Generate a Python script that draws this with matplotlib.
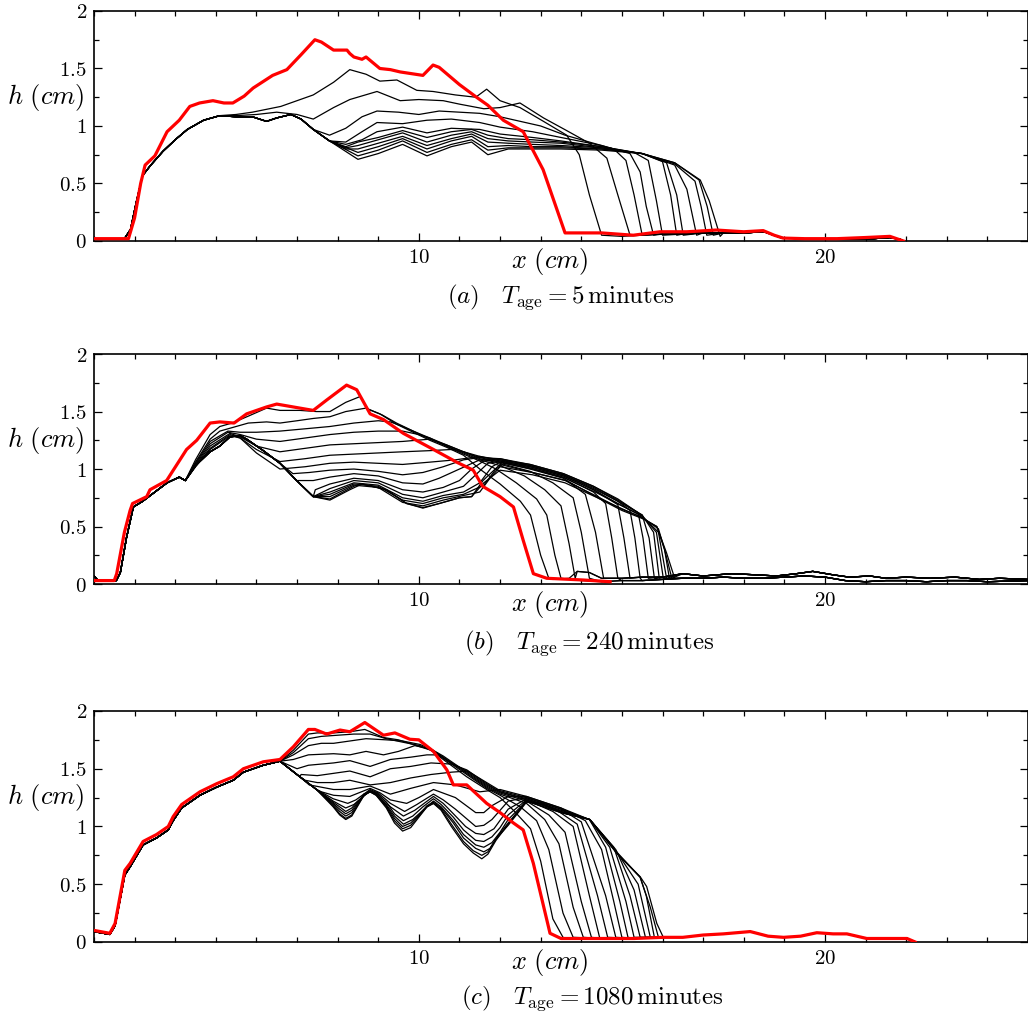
import matplotlib
matplotlib.use('Agg')
import matplotlib.pyplot as plt
import numpy as np
from matplotlib.ticker import MultipleLocator

plt.rcParams['mathtext.fontset'] = 'cm'
plt.rcParams['font.family'] = 'serif'
plt.rcParams['font.serif'] = ['DejaVu Serif']

# tick labels / captions
x_ticks = [10, 20]
x_tick_labels = ['$10$', '$20$']
y_ticks = [0, 0.5, 1, 1.5, 2]
y_tick_labels = ['$0$', '$0.5$', '$1$', '$1.5$', '$2$']
panel_letters = ['a', 'b', 'c']
ages = ['5', '240', '1080']

# ---------------- panel (a) : T_age = 5 min ----------------
a_base = [(2.0, 0.02), (2.75, 0.02), (2.9, 0.1), (3.05, 0.35), (3.2, 0.57), (3.4, 0.66),
          (3.7, 0.78), (4.0, 0.88), (4.3, 0.97), (4.7, 1.05), (5.1, 1.09),
          (5.5, 1.08), (5.9, 1.08), (6.25, 1.04), (6.5, 1.07), (6.85, 1.10), (7.1, 1.06),
          (7.4, 0.97), (7.8, 0.87)]
a_floor = [(14.5, 0.05), (15.0, 0.04), (15.5, 0.05), (16.0, 0.06), (16.5, 0.06), (17.0, 0.07),
           (17.5, 0.07), (18.0, 0.07), (18.5, 0.08), (18.9, 0.03), (19.5, 0.02), (20.5, 0.02),
           (21.2, 0.02), (21.6, 0.03), (21.9, 0.01)]
a_curves = [
    [(5.5, 1.10), (5.9, 1.12), (6.6, 1.17), (7.0, 1.22), (7.4, 1.27), (7.9, 1.38), (8.3, 1.49),
     (8.7, 1.45), (9.04, 1.39), (9.46, 1.40), (9.95, 1.31), (10.35, 1.30), (10.9, 1.27),
     (11.4, 1.25), (11.67, 1.32), (12.0, 1.22), (12.49, 1.16), (13.07, 1.04), (13.64, 0.92),
     (13.95, 0.75), (14.2, 0.4), (14.5, 0.05)],
    [(5.5, 1.09), (6.0, 1.10), (6.5, 1.12), (7.0, 1.10), (7.4, 1.06), (7.9, 1.16), (8.3, 1.23),
     (8.97, 1.30), (9.54, 1.22), (10.0, 1.23), (10.6, 1.22), (11.0, 1.19), (11.6, 1.15),
     (12.0, 1.16), (12.49, 1.20), (13.07, 1.07), (13.64, 0.96), (14.2, 0.85), (14.63, 0.72),
     (14.9, 0.4), (15.2, 0.05)],
    [(7.8, 0.92), (8.2, 0.98), (8.6, 1.08), (8.97, 1.13), (9.5, 1.12), (10.0, 1.10), (10.5, 1.13),
     (11.0, 1.12), (11.5, 1.11), (12.0, 1.08), (12.5, 1.04), (13.0, 1.0), (13.6, 0.92),
     (14.2, 0.86), (14.8, 0.80), (15.1, 0.70), (15.3, 0.4), (15.5, 0.05)],
    [(8.2, 0.86), (8.6, 0.95), (8.97, 1.03), (9.6, 1.02), (10.2, 1.05), (10.8, 1.06), (11.5, 1.03),
     (12.0, 0.99), (12.8, 0.95), (13.5, 0.90), (14.5, 0.83), (15.2, 0.76), (15.45, 0.6),
     (15.6, 0.3), (15.78, 0.05)],
    [(8.2, 0.84), (8.6, 0.88), (8.97, 0.95), (9.6, 0.99), (10.2, 0.94), (10.8, 0.98), (11.5, 0.97),
     (12.0, 0.93), (12.8, 0.90), (13.5, 0.87), (14.5, 0.82), (15.3, 0.77), (15.65, 0.70),
     (15.85, 0.35), (16.0, 0.05)],
    [(8.2, 0.82), (8.5, 0.86), (9.0, 0.90), (9.6, 0.96), (10.2, 0.90), (10.8, 0.95), (11.3, 0.97),
     (11.7, 0.92), (12.2, 0.89), (12.8, 0.88), (13.5, 0.86), (14.5, 0.82), (15.5, 0.76),
     (16.0, 0.69), (16.2, 0.4), (16.35, 0.05)],
    [(8.2, 0.81), (8.5, 0.83), (9.0, 0.88), (9.6, 0.94), (10.2, 0.86), (10.8, 0.92), (11.3, 0.95),
     (11.7, 0.89), (12.2, 0.87), (12.8, 0.86), (13.5, 0.85), (14.5, 0.81), (15.5, 0.76),
     (16.1, 0.68), (16.35, 0.4), (16.51, 0.05)],
    [(8.2, 0.80), (8.5, 0.80), (9.0, 0.85), (9.6, 0.91), (10.2, 0.83), (10.8, 0.89), (11.3, 0.93),
     (11.7, 0.86), (12.2, 0.85), (12.8, 0.84), (13.5, 0.83), (14.5, 0.81), (15.5, 0.76),
     (16.3, 0.66), (16.6, 0.45), (16.84, 0.05)],
    [(8.5, 0.77), (9.0, 0.82), (9.6, 0.89), (10.2, 0.80), (10.8, 0.87), (11.3, 0.91), (11.7, 0.82),
     (12.2, 0.83), (12.8, 0.82), (13.5, 0.82), (14.5, 0.80), (15.5, 0.76), (16.3, 0.67),
     (16.8, 0.52), (16.95, 0.3), (17.09, 0.05)],
    [(8.5, 0.74), (9.0, 0.79), (9.6, 0.87), (10.2, 0.77), (10.8, 0.84), (11.3, 0.88), (11.7, 0.79),
     (12.2, 0.81), (12.8, 0.81), (13.5, 0.81), (14.5, 0.80), (15.5, 0.76), (16.3, 0.68),
     (16.9, 0.53), (17.1, 0.3), (17.25, 0.05)],
    [(8.5, 0.71), (9.0, 0.76), (9.6, 0.84), (10.2, 0.74), (10.8, 0.82), (11.3, 0.86), (11.7, 0.75),
     (12.2, 0.80), (12.8, 0.80), (13.5, 0.80), (14.5, 0.79), (15.5, 0.76), (16.3, 0.68),
     (16.93, 0.53), (17.15, 0.35), (17.42, 0.04)],
]
a_red = [(2.0, 0.02), (2.85, 0.02), (3.0, 0.2), (3.15, 0.5), (3.26, 0.66), (3.5, 0.74), (3.8, 0.95),
         (4.1, 1.05), (4.36, 1.17), (4.6, 1.20), (4.93, 1.22), (5.2, 1.20), (5.42, 1.20),
         (5.7, 1.26), (5.92, 1.33), (6.4, 1.44), (6.75, 1.49), (7.1, 1.62), (7.44, 1.75),
         (7.6, 1.73), (7.9, 1.66), (8.23, 1.66), (8.3, 1.63), (8.4, 1.60), (8.6, 1.58), (8.7, 1.60),
         (9.04, 1.50), (9.3, 1.49), (9.54, 1.47), (10.1, 1.44), (10.35, 1.53), (10.5, 1.51),
         (11.0, 1.36), (11.42, 1.25), (11.7, 1.18), (12.08, 1.05), (12.57, 0.95), (13.06, 0.62),
         (13.6, 0.07), (14.5, 0.07), (15.28, 0.05), (15.94, 0.08), (16.6, 0.08), (17.33, 0.095),
         (18.0, 0.08), (18.48, 0.09), (18.75, 0.05), (18.97, 0.025), (19.5, 0.02), (20.3, 0.02),
         (21.0, 0.03), (21.6, 0.04), (21.93, 0.0)]

# ---------------- panel (b) : T_age = 240 min ----------------
b_base = [(2.0, 0.07), (2.1, 0.03), (2.55, 0.03), (2.65, 0.1), (2.8, 0.4), (2.97, 0.67),
          (3.2, 0.72), (3.5, 0.80), (3.8, 0.88), (4.1, 0.93), (4.25, 0.90),
          (4.5, 1.03), (4.86, 1.15), (5.1, 1.20), (5.35, 1.28), (5.6, 1.29), (5.76, 1.26),
          (6.17, 1.16), (6.58, 1.05), (6.99, 0.90), (7.4, 0.76)]
b_floor_hi = [(13.3, 0.04), (13.7, 0.05), (13.9, 0.11), (14.2, 0.10), (14.5, 0.05), (15.0, 0.05),
              (15.5, 0.06), (16.0, 0.06), (16.5, 0.09), (17.0, 0.07), (17.7, 0.09), (18.3, 0.08),
              (18.8, 0.07), (19.3, 0.09), (19.7, 0.11), (20.2, 0.08), (20.6, 0.06), (21.1, 0.07),
              (21.5, 0.05), (22.0, 0.06), (22.6, 0.05), (23.2, 0.06), (23.8, 0.04), (24.3, 0.05),
              (25.0, 0.04)]
b_floor_lo = [(13.3, 0.03), (14.0, 0.03), (14.5, 0.02), (15.0, 0.03), (15.5, 0.03), (16.0, 0.04),
              (16.5, 0.05), (17.0, 0.05), (17.5, 0.06), (18.0, 0.05), (18.5, 0.05), (19.0, 0.06),
              (19.5, 0.07), (20.0, 0.06), (20.5, 0.03), (21.0, 0.02), (21.5, 0.03), (22.0, 0.03),
              (22.5, 0.02), (23.0, 0.03), (23.5, 0.03), (24.0, 0.02), (25.0, 0.03)]
b_curves = [
    [(4.5, 1.08), (4.86, 1.30), (5.1, 1.37), (5.4, 1.40), (5.8, 1.46), (6.25, 1.53), (6.58, 1.51),
     (7.07, 1.51), (7.48, 1.50), (7.81, 1.50), (8.2, 1.58), (8.55, 1.63), (8.75, 1.52),
     (9.04, 1.48), (9.45, 1.39), (9.86, 1.32), (10.27, 1.25), (10.68, 1.19), (11.1, 1.12),
     (11.5, 1.0), (12.0, 0.87), (12.5, 0.72), (12.75, 0.6), (13.0, 0.25), (13.2, 0.05)],
    [(4.5, 1.06), (4.86, 1.26), (5.1, 1.33), (5.4, 1.36), (5.8, 1.40), (6.25, 1.41), (6.58, 1.40),
     (7.0, 1.42), (7.4, 1.44), (7.81, 1.455), (8.2, 1.50), (8.7, 1.53), (9.1, 1.47), (9.45, 1.40),
     (9.86, 1.33), (10.27, 1.26), (10.68, 1.20), (11.1, 1.13), (11.5, 1.07), (11.9, 1.0),
     (12.4, 0.88), (12.9, 0.74), (13.15, 0.6), (13.35, 0.25), (13.5, 0.05)],
    [(4.5, 1.05), (4.86, 1.24), (5.3, 1.33), (5.6, 1.32), (6.0, 1.32), (6.58, 1.33), (7.2, 1.35),
     (7.81, 1.37), (8.4, 1.40), (9.0, 1.42), (9.3, 1.41), (9.6, 1.37), (9.86, 1.33), (10.27, 1.27),
     (10.68, 1.20), (11.1, 1.14), (11.5, 1.08), (12.0, 1.03), (12.6, 0.94), (13.1, 0.82),
     (13.5, 0.68), (13.7, 0.35), (13.85, 0.05)],
    [(4.5, 1.04), (4.86, 1.22), (5.3, 1.32), (5.6, 1.30), (6.0, 1.26), (6.58, 1.24), (7.2, 1.27),
     (7.81, 1.30), (8.4, 1.32), (9.0, 1.33), (9.6, 1.33), (10.0, 1.30), (10.27, 1.27),
     (10.68, 1.21), (11.1, 1.15), (11.5, 1.09), (12.0, 1.05), (12.74, 0.98), (13.3, 0.88),
     (13.8, 0.75), (14.0, 0.45), (14.2, 0.05)],
    [(4.5, 1.03), (4.86, 1.20), (5.35, 1.31), (5.6, 1.28), (6.0, 1.20), (6.58, 1.15), (7.2, 1.18),
     (7.81, 1.21), (8.4, 1.22), (9.0, 1.23), (9.6, 1.24), (10.27, 1.26), (10.68, 1.21),
     (11.1, 1.15), (11.5, 1.10), (12.0, 1.06), (12.74, 1.0), (13.56, 0.92), (14.1, 0.78),
     (14.35, 0.45), (14.55, 0.05)],
    [(4.5, 1.02), (4.86, 1.18), (5.35, 1.30), (5.6, 1.27), (6.0, 1.17), (6.58, 1.065), (7.2, 1.09),
     (7.81, 1.12), (8.4, 1.13), (9.0, 1.14), (9.6, 1.15), (10.27, 1.16), (10.8, 1.17),
     (11.1, 1.15), (11.5, 1.11), (12.0, 1.07), (12.74, 1.01), (13.56, 0.93), (14.3, 0.80),
     (14.6, 0.70), (14.75, 0.4), (14.9, 0.05)],
    [(4.5, 1.02), (4.86, 1.17), (5.35, 1.29), (5.6, 1.27), (6.0, 1.14), (6.58, 1.0), (7.2, 1.02),
     (7.81, 1.05), (8.4, 1.06), (9.0, 1.05), (9.6, 1.04), (10.27, 1.06), (10.9, 1.08),
     (11.5, 1.11), (12.0, 1.08), (12.74, 1.02), (13.56, 0.94), (14.3, 0.82), (14.9, 0.69),
     (15.05, 0.4), (15.2, 0.05)],
    [(6.9, 0.96), (7.3, 0.97), (7.81, 0.99), (8.4, 1.0), (9.0, 0.98), (9.6, 0.95), (10.1, 0.97),
     (10.6, 1.02), (11.1, 1.08), (11.5, 1.10), (12.0, 1.09), (12.74, 1.03), (13.56, 0.95),
     (14.3, 0.83), (14.9, 0.72), (15.2, 0.64), (15.32, 0.4), (15.45, 0.05)],
    [(7.1, 0.90), (7.4, 0.90), (7.81, 0.93), (8.4, 0.96), (9.0, 0.94), (9.6, 0.88), (10.1, 0.87),
     (10.5, 0.92), (11.0, 1.0), (11.5, 1.08), (12.0, 1.09), (12.74, 1.04), (13.56, 0.96),
     (14.3, 0.85), (14.9, 0.74), (15.4, 0.62), (15.52, 0.4), (15.65, 0.05)],
    [(7.45, 0.82), (7.81, 0.87), (8.4, 0.92), (9.0, 0.90), (9.6, 0.82), (10.1, 0.80), (10.6, 0.84),
     (11.0, 0.90), (11.3, 1.0), (11.6, 1.07), (12.0, 1.08), (12.74, 1.04), (13.56, 0.96),
     (14.3, 0.85), (14.9, 0.73), (15.5, 0.60), (15.67, 0.4), (15.8, 0.05)],
    [(7.81, 0.83), (8.4, 0.90), (9.0, 0.88), (9.6, 0.78), (10.1, 0.75), (10.6, 0.80), (11.1, 0.85),
     (11.4, 0.95), (11.7, 1.05), (12.0, 1.07), (12.74, 1.03), (13.56, 0.95), (14.3, 0.84),
     (14.9, 0.72), (15.5, 0.60), (15.78, 0.45), (15.92, 0.05)],
    [(7.81, 0.80), (8.4, 0.88), (9.0, 0.86), (9.6, 0.75), (10.1, 0.72), (10.6, 0.77), (11.1, 0.80),
     (11.5, 0.88), (11.8, 1.02), (12.0, 1.06), (12.74, 1.02), (13.56, 0.94), (14.3, 0.82),
     (14.9, 0.70), (15.5, 0.59), (15.85, 0.45), (16.02, 0.05)],
    [(7.81, 0.78), (8.4, 0.87), (9.0, 0.85), (9.6, 0.73), (10.1, 0.70), (10.6, 0.75), (11.1, 0.78),
     (11.6, 0.86), (11.9, 1.0), (12.1, 1.05), (12.8, 1.0), (13.6, 0.92), (14.4, 0.79),
     (15.0, 0.68), (15.5, 0.59), (15.9, 0.45), (16.1, 0.05)],
    [(7.81, 0.76), (8.4, 0.86), (9.0, 0.84), (9.6, 0.71), (10.1, 0.68), (10.6, 0.73), (11.1, 0.77),
     (11.5, 0.80), (11.75, 0.92), (12.0, 1.02), (12.8, 0.97), (13.6, 0.90), (14.4, 0.76),
     (15.0, 0.65), (15.5, 0.58), (15.9, 0.48), (16.05, 0.3), (16.17, 0.05)],
    [(7.81, 0.74), (8.4, 0.85), (8.6, 0.87), (9.2, 0.82), (9.7, 0.70), (10.1, 0.665), (10.5, 0.70),
     (11.0, 0.75), (11.3, 0.76), (11.6, 0.88), (12.0, 0.99), (12.8, 0.95), (13.6, 0.88),
     (14.4, 0.75), (15.0, 0.64), (15.5, 0.57), (15.86, 0.5), (16.05, 0.3), (16.23, 0.05)],
    [(7.81, 0.73), (8.3, 0.82), (8.6, 0.87), (9.2, 0.82), (9.7, 0.70), (10.1, 0.66), (10.5, 0.70),
     (11.0, 0.75), (11.3, 0.76), (11.58, 0.90), (12.0, 1.04), (12.8, 0.97), (13.64, 0.90),
     (14.46, 0.74), (15.45, 0.585), (15.86, 0.5), (16.1, 0.27), (16.3, 0.05)],
]
b_red = [(2.0, 0.03), (2.5, 0.03), (2.56, 0.09), (2.75, 0.45), (2.89, 0.64), (2.95, 0.70),
         (3.3, 0.76), (3.38, 0.82), (3.79, 0.90), (4.28, 1.17), (4.53, 1.25), (4.86, 1.40),
         (5.1, 1.41), (5.45, 1.40), (5.76, 1.48), (6.25, 1.54), (6.5, 1.565), (7.07, 1.53),
         (7.4, 1.51), (7.73, 1.60), (8.22, 1.73), (8.47, 1.69), (8.8, 1.48), (9.13, 1.43),
         (9.62, 1.31), (10.36, 1.17), (10.93, 1.06), (11.34, 0.99), (11.57, 0.85), (12.0, 0.76),
         (12.33, 0.67), (12.57, 0.38), (12.82, 0.09), (13.15, 0.05), (14.05, 0.035), (14.71, 0.02)]

# ---------------- panel (c) : T_age = 1080 min ----------------
c_base = [(2.0, 0.09), (2.39, 0.065), (2.52, 0.14), (2.76, 0.58), (2.89, 0.65), (3.21, 0.84),
          (3.54, 0.90), (3.83, 0.97), (3.95, 1.05), (4.16, 1.16), (4.61, 1.27), (5.02, 1.34),
          (5.43, 1.40), (5.68, 1.47), (6.17, 1.53), (6.58, 1.565), (7.07, 1.43), (7.48, 1.32)]
c_floor = [(13.64, 0.03), (14.5, 0.03), (15.3, 0.03), (16.02, 0.04), (16.5, 0.04), (17.0, 0.06),
           (17.5, 0.07), (18.16, 0.09), (18.6, 0.05), (18.98, 0.04), (19.4, 0.05), (19.8, 0.08),
           (20.2, 0.07), (20.54, 0.07), (21.03, 0.03), (21.5, 0.03), (22.02, 0.03), (22.22, 0.0)]
c_curves = [
    [(6.91, 1.66), (7.28, 1.80), (7.5, 1.81), (7.9, 1.81), (8.3, 1.82), (8.67, 1.84), (9.13, 1.77),
     (9.5, 1.75), (10.03, 1.69), (10.3, 1.66), (10.6, 1.58), (11.18, 1.43), (11.67, 1.32),
     (12.0, 1.25), (12.33, 1.14), (12.75, 0.98), (13.0, 0.7), (13.3, 0.2), (13.55, 0.04)],
    [(6.91, 1.64), (7.28, 1.76), (7.6, 1.78), (8.0, 1.79), (8.4, 1.80), (8.8, 1.80), (9.2, 1.76),
     (9.6, 1.73), (10.03, 1.70), (10.3, 1.66), (10.6, 1.59), (11.18, 1.45), (11.67, 1.33),
     (12.0, 1.27), (12.5, 1.17), (12.9, 1.05), (13.2, 0.8), (13.55, 0.25), (13.8, 0.04)],
    [(6.91, 1.62), (7.28, 1.70), (7.6, 1.72), (7.9, 1.72), (8.3, 1.74), (8.7, 1.76), (9.2, 1.75),
     (9.6, 1.74), (10.03, 1.71), (10.3, 1.67), (10.6, 1.60), (11.18, 1.46), (11.67, 1.34),
     (12.0, 1.28), (12.65, 1.20), (13.1, 1.06), (13.45, 0.85), (13.8, 0.3), (14.05, 0.04)],
    [(6.91, 1.58), (7.28, 1.62), (7.9, 1.63), (8.3, 1.62), (8.7, 1.65), (9.13, 1.62), (9.5, 1.65),
     (9.9, 1.70), (10.3, 1.67), (10.6, 1.61), (11.18, 1.47), (11.67, 1.35), (12.0, 1.29),
     (12.65, 1.22), (13.2, 1.10), (13.6, 0.95), (14.0, 0.35), (14.25, 0.04)],
    [(7.0, 1.50), (7.28, 1.53), (7.9, 1.55), (8.3, 1.57), (8.8, 1.52), (9.3, 1.58), (9.8, 1.60),
     (10.2, 1.62), (10.5, 1.62), (10.8, 1.55), (11.18, 1.48), (11.67, 1.36), (12.0, 1.30),
     (12.65, 1.23), (13.3, 1.13), (13.8, 1.0), (14.2, 0.4), (14.45, 0.04)],
    [(7.1, 1.45), (7.5, 1.44), (7.9, 1.46), (8.3, 1.48), (8.8, 1.43), (9.3, 1.50), (9.8, 1.52),
     (10.3, 1.55), (10.8, 1.54), (11.18, 1.49), (11.67, 1.37), (12.0, 1.30), (12.65, 1.24),
     (13.4, 1.14), (13.9, 1.02), (14.4, 0.4), (14.65, 0.04)],
    [(7.2, 1.40), (7.5, 1.38), (7.9, 1.38), (8.3, 1.40), (8.8, 1.36), (9.3, 1.38), (9.8, 1.42),
     (10.3, 1.45), (10.8, 1.47), (11.2, 1.48), (11.67, 1.38), (12.0, 1.31), (12.65, 1.25),
     (13.5, 1.15), (14.0, 1.04), (14.6, 0.4), (14.85, 0.04)],
    [(7.3, 1.36), (7.9, 1.32), (8.3, 1.32), (8.8, 1.35), (9.3, 1.28), (9.8, 1.33), (10.36, 1.38),
     (10.9, 1.36), (11.5, 1.30), (12.0, 1.32), (12.65, 1.26), (13.5, 1.16), (14.1, 1.05),
     (14.5, 0.8), (14.8, 0.35), (15.0, 0.04)],
    [(7.6, 1.30), (7.9, 1.27), (8.3, 1.26), (8.8, 1.33), (9.05, 1.29), (9.3, 1.23), (9.7, 1.20),
     (10.0, 1.25), (10.36, 1.32), (10.9, 1.25), (11.4, 1.12), (11.6, 1.12), (11.8, 1.18),
     (12.2, 1.26), (12.65, 1.26), (13.5, 1.16), (14.2, 1.06), (14.6, 0.82), (14.95, 0.35),
     (15.15, 0.04)],
    [(7.89, 1.24), (8.25, 1.20), (8.45, 1.23), (8.8, 1.32), (9.0, 1.29), (9.3, 1.20),
     (9.65, 1.13), (9.95, 1.19), (10.36, 1.28), (10.6, 1.23), (10.9, 1.15), (11.4, 1.0),
     (11.6, 1.01), (11.8, 1.06), (12.2, 1.22), (12.65, 1.25), (13.5, 1.15), (14.2, 1.06),
     (14.7, 0.82), (15.1, 0.35), (15.3, 0.04)],
    [(7.89, 1.22), (8.2, 1.16), (8.4, 1.19), (8.8, 1.31), (9.0, 1.28), (9.3, 1.17), (9.62, 1.09),
     (9.9, 1.14), (10.36, 1.26), (10.6, 1.20), (10.85, 1.11), (11.15, 1.0), (11.4, 0.94),
     (11.6, 0.93), (11.85, 0.98), (12.2, 1.15), (12.65, 1.24), (13.5, 1.14), (14.21, 1.06),
     (14.8, 0.82), (15.2, 0.4), (15.45, 0.04)],
    [(7.89, 1.21), (8.05, 1.17), (8.2, 1.13), (8.35, 1.16), (8.5, 1.22), (8.8, 1.31),
     (8.95, 1.29), (9.2, 1.21), (9.4, 1.11), (9.62, 1.05), (9.85, 1.09), (10.1, 1.17),
     (10.36, 1.24), (10.55, 1.19), (10.85, 1.08), (11.1, 0.97), (11.4, 0.88), (11.6, 0.87),
     (11.8, 0.91), (12.0, 0.99), (12.2, 1.10), (12.65, 1.23), (13.5, 1.13), (14.21, 1.06),
     (14.85, 0.80), (15.3, 0.45), (15.58, 0.04)],
    [(7.89, 1.20), (8.05, 1.15), (8.2, 1.11), (8.35, 1.14), (8.5, 1.21), (8.65, 1.28),
     (8.8, 1.30), (8.95, 1.28), (9.2, 1.19), (9.4, 1.09), (9.62, 1.02), (9.85, 1.06),
     (10.1, 1.14), (10.36, 1.22), (10.55, 1.17), (10.85, 1.05), (11.1, 0.93), (11.4, 0.84),
     (11.6, 0.82), (11.8, 0.86), (12.0, 0.95), (12.2, 1.06), (12.65, 1.22), (13.5, 1.12),
     (14.21, 1.06), (14.87, 0.78), (15.4, 0.5), (15.7, 0.04)],
    [(7.89, 1.19), (8.05, 1.13), (8.2, 1.09), (8.35, 1.12), (8.5, 1.20), (8.65, 1.28),
     (8.8, 1.30), (8.95, 1.28), (9.2, 1.18), (9.4, 1.07), (9.6, 1.0), (9.8, 1.03), (10.0, 1.10),
     (10.2, 1.18), (10.36, 1.21), (10.55, 1.16), (10.85, 1.03), (11.1, 0.90), (11.4, 0.81),
     (11.6, 0.78), (11.75, 0.81), (11.95, 0.92), (12.2, 1.03), (12.65, 1.22), (13.5, 1.12),
     (14.21, 1.06), (14.87, 0.78), (15.45, 0.56), (15.6, 0.4), (15.8, 0.04)],
    [(7.89, 1.18), (8.05, 1.11), (8.2, 1.07), (8.35, 1.10), (8.5, 1.19), (8.65, 1.27),
     (8.8, 1.30), (8.95, 1.27), (9.2, 1.17), (9.4, 1.05), (9.6, 0.98), (9.8, 1.01), (10.0, 1.09),
     (10.2, 1.17), (10.36, 1.20), (10.55, 1.15), (10.8, 1.02), (11.1, 0.87), (11.34, 0.79),
     (11.55, 0.75), (11.7, 0.78), (11.9, 0.89), (12.2, 1.01), (12.65, 1.21), (13.0, 1.20),
     (13.64, 1.11), (14.21, 1.06), (14.87, 0.77), (15.45, 0.56), (15.7, 0.3), (15.9, 0.04)],
    [(7.89, 1.17), (8.05, 1.10), (8.2, 1.06), (8.35, 1.09), (8.5, 1.18), (8.65, 1.27),
     (8.8, 1.30), (8.95, 1.27), (9.2, 1.16), (9.4, 1.03), (9.6, 0.96), (9.8, 0.99), (10.0, 1.08),
     (10.2, 1.17), (10.36, 1.20), (10.55, 1.14), (10.8, 1.0), (11.1, 0.85), (11.34, 0.77),
     (11.55, 0.72), (11.7, 0.76), (11.9, 0.88), (12.2, 1.02), (12.65, 1.22), (13.0, 1.20),
     (13.64, 1.11), (14.21, 1.06), (14.87, 0.77), (15.45, 0.565), (15.61, 0.48), (15.86, 0.16),
     (16.02, 0.04)],
]
c_red = [(2.0, 0.10), (2.39, 0.075), (2.52, 0.16), (2.76, 0.62), (2.89, 0.68), (3.21, 0.87),
         (3.54, 0.93), (3.83, 1.0), (3.95, 1.085), (4.16, 1.19), (4.61, 1.30), (5.02, 1.37),
         (5.43, 1.43), (5.68, 1.50), (6.17, 1.56), (6.58, 1.58), (6.91, 1.69), (7.28, 1.84),
         (7.44, 1.84), (7.73, 1.80), (8.06, 1.835), (8.3, 1.82), (8.67, 1.90), (9.13, 1.79),
         (9.41, 1.81), (9.78, 1.755), (10.0, 1.75), (10.36, 1.65), (10.69, 1.49), (10.85, 1.36),
         (11.18, 1.36), (11.67, 1.20), (12.0, 1.12), (12.33, 1.03), (12.57, 0.97), (12.82, 0.68),
         (13.23, 0.075), (13.5, 0.03)]


def assemble(base, tail, floor):
    # shared left part, the curve's own points, then the floor beyond its front
    left = [p for p in base if p[0] < tail[0][0]]
    right = [p for p in floor if p[0] > tail[-1][0]]
    pts = np.array(left + tail + right)
    return pts[:, 0], pts[:, 1]


fig = plt.figure(figsize=(10.28, 10.18), dpi=100)
boxes = [[0.0914, 0.7633, 0.9086, 0.2259],
         [0.0914, 0.4263, 0.9086, 0.2259],
         [0.0914, 0.0747, 0.9086, 0.2269]]
caption_x = [0.500, 0.530, 0.534]
caption_y = [-0.243, -0.257, -0.242]

panels = [
    (a_base, a_curves, [a_floor], a_red, a_floor),
    (b_base, b_curves, [b_floor_hi, b_floor_lo], b_red, []),
    (c_base, c_curves, [c_floor], c_red, c_floor),
]

for i, (base, curves, floors, red, red_floor) in enumerate(panels):
    ax = fig.add_axes(boxes[i])
    for k, tail in enumerate(curves):
        xs, hs = assemble(base, tail, floors[k % len(floors)])
        ax.plot(xs, hs, color='black', lw=0.9, zorder=2, solid_joinstyle='round')
    rx, rh = assemble([], red, red_floor)
    ax.plot(rx, rh, color='#ff0000', lw=2.3, zorder=3, solid_joinstyle='round')

    ax.set_xlim(2, 25)
    ax.set_ylim(0, 2)
    ax.set_xticks(x_ticks)
    ax.set_xticklabels(x_tick_labels, fontsize=15)
    ax.set_yticks(y_ticks)
    ax.set_yticklabels(y_tick_labels, fontsize=15)
    ax.xaxis.set_minor_locator(MultipleLocator(1))
    ax.yaxis.set_minor_locator(MultipleLocator(0.25))
    ax.tick_params(which='both', direction='in', top=True, right=True, width=0.9)
    ax.tick_params(which='major', length=6, pad=5)
    ax.tick_params(which='minor', length=3.5)
    for s in ax.spines.values():
        s.set_linewidth(1.2)

    ax.text(-0.052, 0.626, r'$h\ (cm)$', transform=ax.transAxes, ha='center', va='center',
            fontsize=19)
    ax.text(0.488, -0.09, r'$x\ (cm)$', transform=ax.transAxes, ha='center', va='center',
            fontsize=19)
    ax.text(caption_x[i], caption_y[i],
            r'$(%s)\quad T_{\mathrm{age}} = %s\,\mathrm{minutes}$' % (panel_letters[i], ages[i]),
            transform=ax.transAxes, ha='center', va='center', fontsize=18)

fig.savefig('out.png', dpi=100)
